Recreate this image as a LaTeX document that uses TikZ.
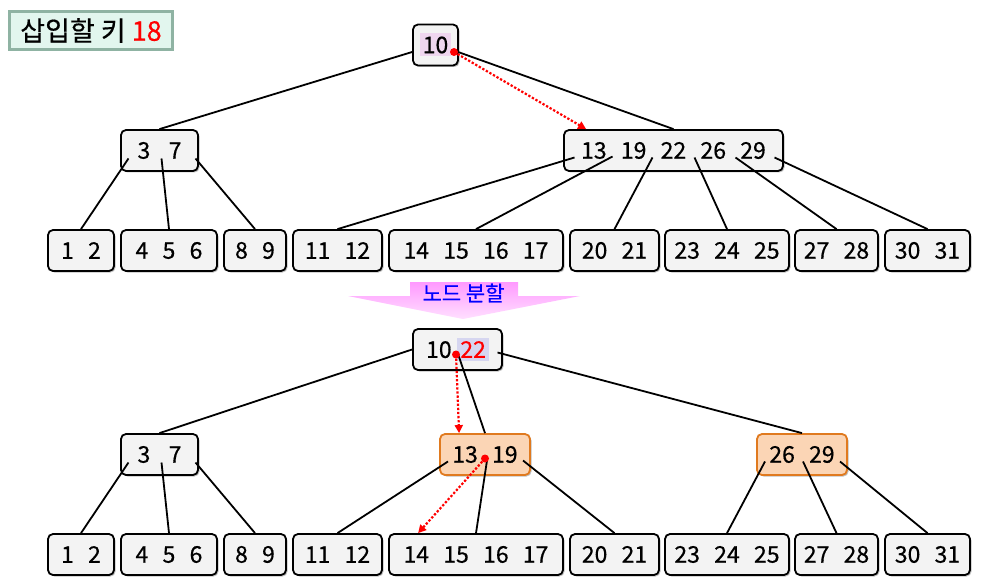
\documentclass[tikz,border=0pt]{standalone}
\usepackage{fontspec}
\setmainfont{Noto Sans CJK KR}
\newfontfamily\keyfont{Noto Sans CJK KR}[FakeBold=0.5]
\usetikzlibrary{arrows.meta,shadows,calc}
\definecolor{boxfill}{HTML}{F3F3F3}
\definecolor{orfill}{HTML}{FBD5B5}
\definecolor{ordraw}{HTML}{E07A1F}
\definecolor{pinkhl}{HTML}{EFD6EF}
\definecolor{lavhl}{HTML}{D6D6F0}
\definecolor{titlefill}{HTML}{E2F6EE}
\definecolor{titledraw}{HTML}{8FB3A3}
\definecolor{bantop}{HTML}{FF99FF}
\definecolor{banbot}{HTML}{FFE0FF}
\newcommand\gp{\hspace{0.62em}}
\newcommand\hlbox[2]{{\setlength\fboxsep{3pt}\colorbox{#1}{#2}}}
\begin{document}
\begin{tikzpicture}[x=1pt,y=-1pt,
  keybox/.style={draw, rounded corners=5pt, line width=1.8pt, fill=boxfill,
    minimum height=41pt, inner sep=0pt, font=\keyfont\fontsize{23}{26}\selectfont,
    drop shadow={shadow xshift=1.5pt,shadow yshift=-1.5pt,opacity=0.25,fill=black}},
  orkey/.style={keybox, fill=orfill, draw=ordraw},
  link/.style={line width=1.8pt},
  redarrow/.style={red, line width=2.2pt, dash pattern=on 2.3pt off 1.8pt, -{Triangle[length=8pt,width=8pt]}},
  dotmark/.style={circle, fill=red, inner sep=0pt, minimum size=8pt}
]
\useasboundingbox (0,0) rectangle (984,588);

% title
\node[draw=titledraw, line width=2.4pt, fill=titlefill, minimum width=163pt, minimum height=38pt,
  inner sep=0pt, font=\keyfont\fontsize{27}{30}\selectfont] (title) at (91,30.5) {삽입할 키 \textcolor{red}{18}};

% ---------- top tree ----------
\node[keybox, minimum width=45pt] (r) at (435.5,45) {\hlbox{pinkhl}{10}};
\node[keybox, minimum width=77pt] (a) at (159.5,150.5) {3\hspace{0.8em}7};
\node[keybox, minimum width=219pt] (b) at (673.5,150.5) {13\gp 19\gp 22\gp 26\gp 29};
\foreach \nm/\cx/\w/\t in {l1/81/66/{1\gp 2}, l2/169/96/{4\gp 5\gp 6}, l3/255/62/{8\gp 9},
  l4/337.5/89/{11\gp 12}, l5/476/174/{14\gp 15\gp 16\gp 17}, l6/614.5/89/{20\gp 21},
  l7/727/124/{23\gp 24\gp 25}, l8/836.5/83/{27\gp 28}, l9/927.5/85/{30\gp 31}}
  \node[keybox, minimum width=\w pt] (\nm) at (\cx,250.5) {\t};

\draw[link] ($(r.west)+(0,7)$) -- (a.north);
\draw[link] ($(r.center)+(17,5)$) -- (b.north);
\draw[link] ($(a.center)+(-31,8)$) -- (l1.north);
\draw[link] ($(a.center)+(2,8)$) -- (l2.north);
\draw[link] ($(a.center)+(36,8)$) -- (l3.north);
\draw[link] ($(b.center)+(-99,7)$) -- (l4.north);
\draw[link] ($(b.center)+(-61,6)$) -- (l5.north);
\draw[link] ($(b.center)+(-21,7)$) -- (l6.north);
\draw[link] ($(b.center)+(21,7)$) -- (l7.north);
\draw[link] ($(b.center)+(62,7)$) -- (l8.north);
\draw[link] ($(b.center)+(101,7)$) -- (l9.north);
\node[dotmark] (d1) at ($(r.center)+(18.5,7)$) {};
\draw[redarrow] (d1.center) -- ($(b.north west)+(23,0)$);

% ---------- banner ----------
\shade[top color=bantop, bottom color=banbot] (410,282) -- (518,282) -- (518,296) -- (580,296)
  -- (463,319) -- (348,296) -- (410,296) -- cycle;
\node[text=blue, font=\keyfont\fontsize{21}{24}\selectfont, inner sep=0pt] (ban) at (463.5,293) {노드 분할};

% ---------- bottom tree ----------
\node[keybox, minimum width=89pt] (R) at (457.5,349.5) {10\hspace{0.25em}\hlbox{lavhl}{\textcolor{red}{22}}};
\node[keybox, minimum width=77pt] (A) at (159.5,454.5) {3\hspace{0.8em}7};
\node[orkey, minimum width=90pt] (B) at (485,454.5) {13\gp 19};
\node[orkey, minimum width=90pt] (C) at (802,454.5) {26\gp 29};
\foreach \nm/\cx/\w/\t in {m1/81/66/{1\gp 2}, m2/169/96/{4\gp 5\gp 6}, m3/255/62/{8\gp 9},
  m4/337.5/89/{11\gp 12}, m5/476/174/{14\gp 15\gp 16\gp 17}, m6/614.5/89/{20\gp 21},
  m7/727/124/{23\gp 24\gp 25}, m8/836.5/83/{27\gp 28}, m9/927.5/85/{30\gp 31}}
  \node[keybox, minimum width=\w pt] (\nm) at (\cx,554.5) {\t};

\draw[link] (R.west) -- (A.north);
\draw[link] ($(R.center)+(0,3)$) -- (B.north);
\draw[link] ($(R.center)+(40,3)$) -- (C.north);
\draw[link] ($(A.center)+(-31,8)$) -- (m1.north);
\draw[link] ($(A.center)+(2,8)$) -- (m2.north);
\draw[link] ($(A.center)+(36,8)$) -- (m3.north);
\draw[link] ($(B.center)+(-37,7)$) -- (m4.north);
\draw[link] ($(B.center)+(2,6)$) -- (m5.north);
\draw[link] ($(B.center)+(38,6)$) -- (m6.north);
\draw[link] ($(C.center)+(-37,7)$) -- (m7.north);
\draw[link] ($(C.center)+(1,7)$) -- (m8.north);
\draw[link] ($(C.center)+(38,7)$) -- (m9.north);
\node[dotmark] (d2) at ($(R.center)+(-1.5,5)$) {};
\draw[redarrow] (d2.center) -- ($(B.north west)+(20,0)$);
\node[dotmark] (d3) at ($(B.center)+(0,4)$) {};
\draw[redarrow] (d3.center) -- ($(m5.north west)+(30,0)$);
\end{tikzpicture}
\end{document}
